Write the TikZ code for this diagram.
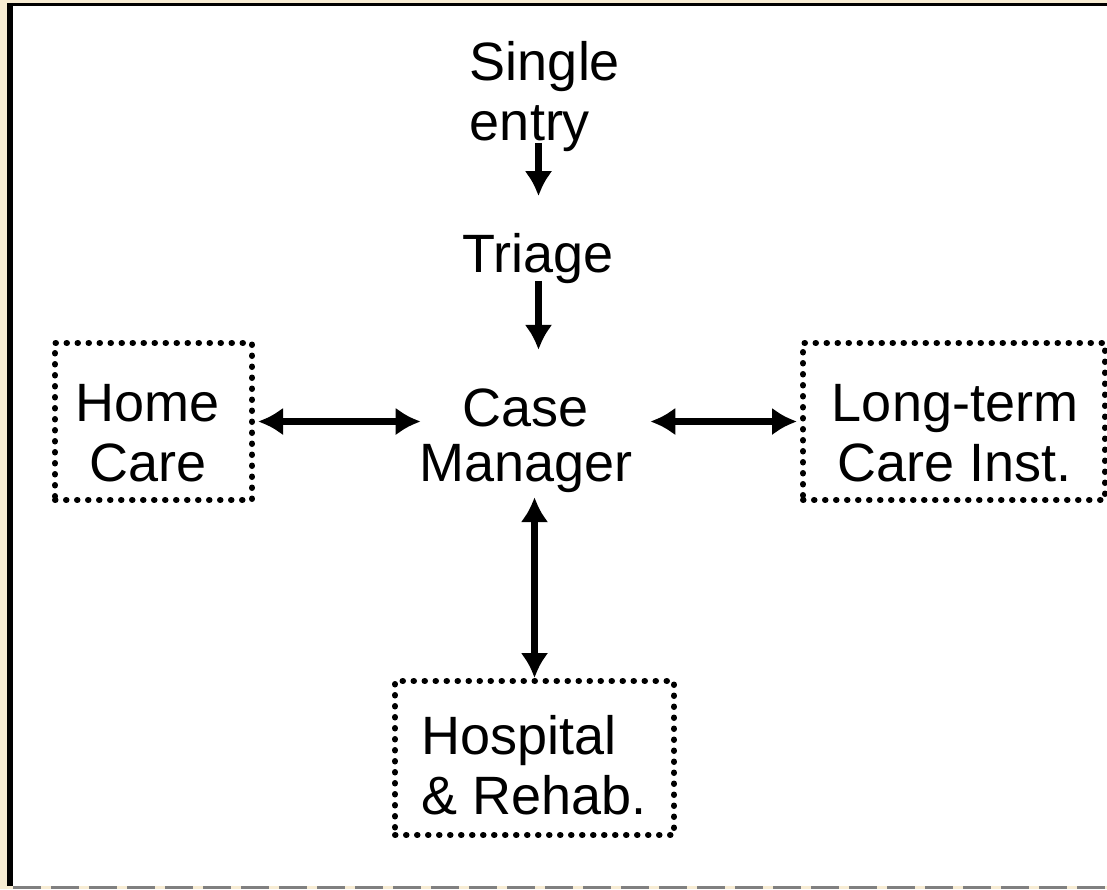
\documentclass[tikz,border=0pt]{standalone}
\usepackage{fontspec}
\setmainfont{Liberation Sans}
\usetikzlibrary{arrows.meta, positioning, calc}
\definecolor{framebeige}{RGB}{247,236,211}
\definecolor{edgegray}{RGB}{128,128,128}

\begin{document}
\begin{tikzpicture}[x=1pt, y=-1pt,
    lbl/.style={inner sep=0pt, font=\fontsize{54}{60}\selectfont},
    carebox/.style={draw, line width=6pt, dash pattern=on 0.5pt off 10.5pt, line cap=round, inner sep=0pt},
    flow/.style={line width=7pt, -{Latex[length=25pt, width=28pt]}},
    twoway/.style={line width=7pt, {Latex[length=25pt, width=28pt]}-{Latex[length=25pt, width=28pt]}}]
  % frame
  \useasboundingbox (0,0) rectangle (1107,889);
  \fill[framebeige] (0,0) rectangle (1107,889);
  \fill[white] (7,3) rectangle (1107,886);
  \draw[line width=6pt] (10,3) -- (10,886);
  \draw[line width=3pt] (7,4.5) -- (1107,4.5);
  \draw[edgegray, line width=3pt, dash pattern=on 28pt off 10pt] (13,887.5) -- (1107,887.5);

  % dotted boxes
  \node[carebox, minimum width=197pt, minimum height=157pt] (homebox) at (153.5,421.5) {};
  \node[carebox, minimum width=302pt, minimum height=157pt] (ltcbox) at (954,421.5) {};
  \node[carebox, minimum width=279pt, minimum height=154pt] (hospbox) at (534.5,758) {};

  % labels
  \node[lbl, align=left] (single) at (545,96.5) {Single\\entry};
  \node[lbl] (triage) at (538.5,258.5) {Triage};
  \node[lbl, align=center, font=\fontsize{54}{55}\selectfont] (case) at (526,441) {Case\\Manager};
  \node[lbl, align=center] (home) at (148,433) {Home\\Care};
  \node[lbl, align=center] (ltc) at (955,433) {Long-term\\Care Inst.};
  \node[lbl, align=left] (hosp) at (534,765) {Hospital\\\& Rehab.};

  % arrows
  \draw[flow, shorten <=-9pt, shorten >=37pt] (single.south -| triage.north) -- (triage.north);
  \draw[flow, shorten <=-3pt, shorten >=39pt] (triage.south) -- (triage.south |- case.north);
  \draw[twoway, shorten <=3pt, shorten >=-1.5pt] (homebox.east) -- (homebox.east -| case.west);
  \draw[twoway, shorten <=17.5pt, shorten >=3pt] (ltcbox.west -| case.east) -- (ltcbox.west);
  \draw[twoway, shorten <=4pt] (hospbox.north |- case.south) -- (hospbox.north);
\end{tikzpicture}
\end{document}
